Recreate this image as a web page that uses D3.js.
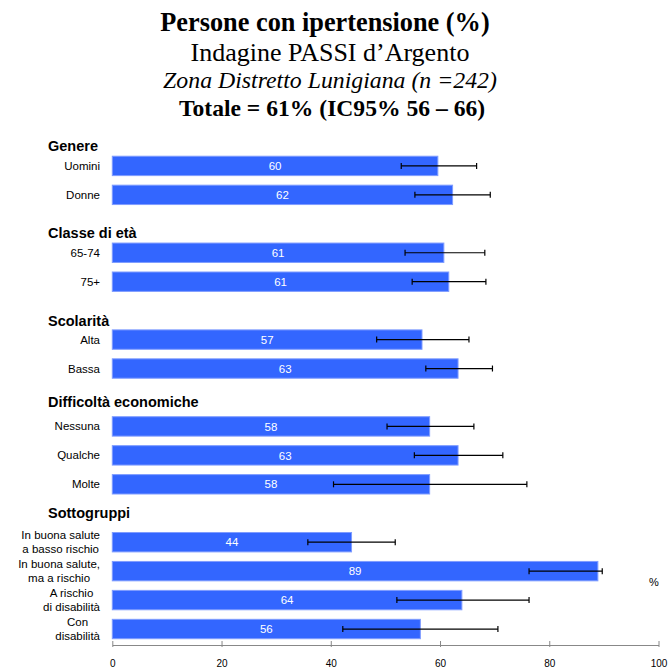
<!DOCTYPE html>
<html>
<head>
<meta charset="utf-8">
<script src="https://cdn.jsdelivr.net/npm/d3@7"></script>
<style>
  body { margin: 0; background: #fff; }
  svg { display: block; }
</style>
</head>
<body>
<svg id="chart"></svg>
<script>
// Data
const groups = ["Genere", "Classe di età", "Scolarità", "Difficoltà economiche", "Sottogruppi"];
const categories = [
    "Uomini", "Donne",
    "65-74", "75+",
    "Alta", "Bassa",
    "Nessuna", "Qualche", "Molte",
    "In buona salute\na basso rischio", "In buona salute,\nma a rischio", "A rischio\ndi disabilità", "Con\ndisabilità"
];
const categoryGroup = [0, 0, 1, 1, 2, 2, 3, 3, 3, 4, 4, 4, 4];
const values = [59.6, 62.3, 60.7, 61.6, 56.7, 63.3, 58.1, 63.3, 58.1, 43.8, 88.9, 64.0, 56.4];
const valueLabels = ["60", "62", "61", "61", "57", "63", "58", "63", "58", "44", "89", "64", "56"];
const lower = [52.9, 55.4, 53.6, 54.9, 48.4, 57.4, 50.3, 55.3, 40.5, 35.8, 76.3, 52.1, 42.2];
const upper = [66.7, 69.2, 68.2, 68.4, 65.3, 69.6, 66.2, 71.5, 75.9, 51.8, 89.7, 76.3, 70.6];
const xTicks = [0, 20, 40, 60, 80, 100];
const titleLines = [
    "Persone con ipertensione (%)",
    "Indagine PASSI d\u2019Argento",
    "Zona Distretto Lunigiana (n =242)",
    "Totale = 61% (IC95% 56 \u2013 66)"
];

const width = 669, height = 668;
const svg = d3.select("#chart").attr("width", width).attr("height", height);

// rows: a header slot before every group, then its categories
const rows = [];
groups.forEach((g, gi) => {
    rows.push({ id: "h" + gi, header: true, label: g, gi: gi });
    categories.forEach((c, i) => {
        if (categoryGroup[i] === gi) rows.push({ id: "c" + i, header: false, i: i });
    });
});

const x = d3.scaleLinear().domain([0, 100]).range([112.3, 658.5]);
const y = d3.scaleBand()
    .domain(rows.map(r => r.id))
    .range([122.5, 643.5])
    .paddingInner(0.33)
    .paddingOuter(0.165);

// Title
const titleStyle = [
    { size: 26.3, weight: "bold", style: "normal", x: 325, y: 31 },
    { size: 26, weight: "normal", style: "normal", x: 330, y: 61 },
    { size: 23.8, weight: "normal", style: "italic", x: 330, y: 88 },
    { size: 23.6, weight: "bold", style: "normal", x: 332, y: 116 }
];
svg.append("g").selectAll("text")
    .data(titleLines)
    .join("text")
    .attr("x", (d, i) => titleStyle[i].x)
    .attr("y", (d, i) => titleStyle[i].y)
    .attr("text-anchor", "middle")
    .attr("font-family", "'Liberation Serif', 'Times New Roman', serif")
    .attr("font-size", (d, i) => titleStyle[i].size)
    .attr("font-weight", (d, i) => titleStyle[i].weight)
    .attr("font-style", (d, i) => titleStyle[i].style)
    .attr("fill", "#000")
    .text(d => d);

const chart = svg.append("g")
    .attr("font-family", "'Liberation Sans', Arial, sans-serif");

// Group headers (small per-header nudges, as in the original layout)
const headerShift = [9, 9, 10, 4, 0];
chart.selectAll("text.header")
    .data(rows.filter(r => r.header))
    .join("text")
    .attr("class", "header")
    .attr("x", 48)
    .attr("y", d => y(d.id) + y.bandwidth() / 2 + headerShift[d.gi])
    .attr("dy", "0.35em")
    .attr("font-size", 14.5)
    .attr("font-weight", "bold")
    .attr("fill", "#000")
    .text(d => d.label);

const catRows = rows.filter(r => !r.header);

// Bars
chart.selectAll("rect.bar")
    .data(catRows)
    .join("rect")
    .attr("class", "bar")
    .attr("x", x(0))
    .attr("y", d => y(d.id))
    .attr("width", d => x(values[d.i]) - x(0))
    .attr("height", y.bandwidth())
    .attr("fill", "#3366ff")
    .attr("stroke", "#7f9cff")
    .attr("stroke-width", 1);

// Value labels inside the bars
chart.selectAll("text.value")
    .data(catRows)
    .join("text")
    .attr("class", "value")
    .attr("x", d => (x(0) + x(values[d.i])) / 2)
    .attr("y", d => y(d.id) + y.bandwidth() / 2)
    .attr("dy", "0.36em")
    .attr("text-anchor", "middle")
    .attr("font-size", 11.5)
    .attr("fill", "#fff")
    .text(d => valueLabels[d.i]);

// Error bars
const err = chart.selectAll("g.err")
    .data(catRows)
    .join("g")
    .attr("class", "err")
    .attr("transform", d => `translate(0,${y(d.id) + y.bandwidth() / 2})`)
    .attr("stroke", "#000")
    .attr("stroke-width", 1.2);
err.append("line")
    .attr("x1", d => x(lower[d.i]))
    .attr("x2", d => x(upper[d.i]))
    .attr("y1", 0).attr("y2", 0);
err.append("line")
    .attr("x1", d => x(lower[d.i]))
    .attr("x2", d => x(lower[d.i]))
    .attr("y1", -3).attr("y2", 3);
err.append("line")
    .attr("x1", d => x(upper[d.i]))
    .attr("x2", d => x(upper[d.i]))
    .attr("y1", -3).attr("y2", 3);

// Category labels (multi-line ones are centred as a block, right edge at 100)
const labels = chart.selectAll("text.cat")
    .data(catRows)
    .join("text")
    .attr("class", "cat")
    .attr("font-size", 11.5)
    .attr("fill", "#000");
labels.each(function (d) {
    const lines = categories[d.i].split("\n");
    const t = d3.select(this);
    const cy = y(d.id) + y.bandwidth() / 2;
    const lh = 13.5;
    lines.forEach((l, k) => {
        t.append("tspan")
            .attr("y", cy + (k - (lines.length - 1) / 2) * lh)
            .attr("dy", "0.35em")
            .text(l);
    });
    let maxW = 0;
    t.selectAll("tspan").each(function () { maxW = Math.max(maxW, this.getComputedTextLength()); });
    if (lines.length > 1) {
        t.attr("text-anchor", "middle");
        t.selectAll("tspan").attr("x", 100 - maxW / 2);
    } else {
        t.attr("text-anchor", "end");
        t.selectAll("tspan").attr("x", 100);
    }
});

// X axis
const axis = chart.append("g")
    .attr("transform", "translate(0,645)")
    .call(d3.axisBottom(x).tickValues(xTicks).tickSize(0).tickPadding(15));
axis.select(".domain").attr("stroke", "#888").attr("stroke-width", 1);
axis.selectAll(".tick").append("line")
    .attr("y1", -4).attr("y2", 2)
    .attr("stroke", "#888");
axis.selectAll(".tick text")
    .attr("font-family", "'Liberation Sans', Arial, sans-serif")
    .attr("font-size", 10)
    .attr("fill", "#000");

chart.append("text")
    .attr("x", 654)
    .attr("y", 582)
    .attr("dy", "0.35em")
    .attr("text-anchor", "middle")
    .attr("font-size", 11)
    .attr("fill", "#000")
    .text("%");
</script>
</body>
</html>
